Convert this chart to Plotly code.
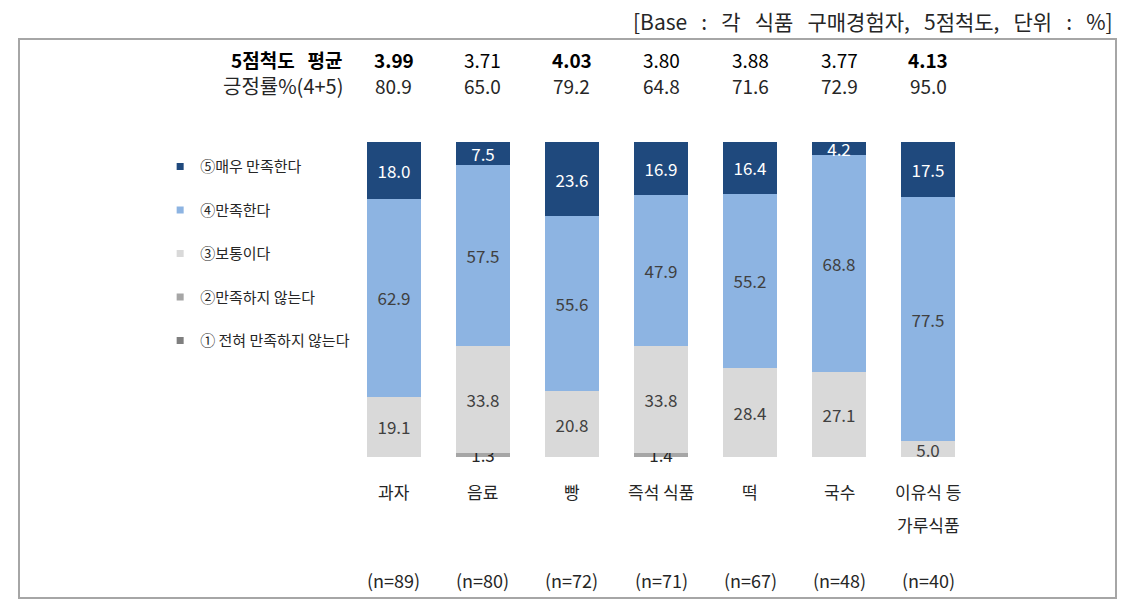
import plotly.graph_objects as go

categories = ['과자', '음료', '빵', '즉석 식품', '떡', '국수', '이유식 등<br>가루식품']
n_labels = ['(n=89)', '(n=80)', '(n=72)', '(n=71)', '(n=67)', '(n=48)', '(n=40)']
mean_5pt = ['3.99', '3.71', '4.03', '3.80', '3.88', '3.77', '4.13']
mean_bold = [True, False, True, False, False, False, True]
positive_rate = ['80.9', '65.0', '79.2', '64.8', '71.6', '72.9', '95.0']

s1 = [0, 0, 0, 0, 0, 0, 0]                       # ① 전혀 만족하지 않는다
s2 = [0, 1.3, 0, 1.4, 0, 0, 0]                   # ② 만족하지 않는다
s3 = [19.1, 33.8, 20.8, 33.8, 28.4, 27.1, 5.0]   # ③ 보통이다
s4 = [62.9, 57.5, 55.6, 47.9, 55.2, 68.8, 77.5]  # ④ 만족한다
s5 = [18.0, 7.5, 23.6, 16.9, 16.4, 4.2, 17.5]    # ⑤ 매우 만족한다

series = [
    ('① 전혀 만족하지 않는다', s1, '#7F7F7F', '#404040'),
    ('②만족하지 않는다', s2, '#A6A6A6', '#262626'),
    ('③보통이다', s3, '#D9D9D9', '#404040'),
    ('④만족한다', s4, '#8DB4E2', '#404040'),
    ('⑤매우 만족한다', s5, '#1F497D', '#FFFFFF'),
]

FONT = 'Liberation Sans Narrow, Noto Sans CJK KR, sans-serif'
KFONT = 'Noto Sans CJK KR, Liberation Sans, sans-serif'

fig = go.Figure()
nser = len(series)
for i, (name, vals, col, tcol) in enumerate(series):
    fig.add_trace(go.Bar(
        x=list(range(len(categories))), y=vals, name=name,
        marker=dict(color=col, line=dict(width=0)),
        text=[f'{v:.1f}' if v > 0 else '' for v in vals],
        textposition='inside', insidetextanchor='middle', textangle=0,
        constraintext='none',
        textfont=dict(family=FONT, size=17, color=tcol),
        width=0.6, showlegend=False, hoverinfo='skip', cliponaxis=False,
    ))
    fig.add_trace(go.Scatter(
        x=[None], y=[None], mode='markers', name=name,
        marker=dict(symbol='square', size=7, color=col),
        legendgroup=f'g{i}', legendrank=nser - i, showlegend=True,
    ))

ann = []
for i in range(len(categories)):
    ann.append(dict(x=i, y=126.3, xref='x', yref='y', showarrow=False,
                    text=(f'<b>{mean_5pt[i]}</b>' if mean_bold[i] else mean_5pt[i]),
                    font=dict(family=FONT, size=19, color='#000000')))
    ann.append(dict(x=i, y=117.8, xref='x', yref='y', showarrow=False,
                    text=positive_rate[i],
                    font=dict(family=FONT, size=19, color='#262626')))
    for j, line in enumerate(categories[i].split('<br>')):
        ann.append(dict(x=i, y=-11.1 - j * 10.2, xref='x', yref='y', showarrow=False,
                        text=line,
                        font=dict(family=KFONT, size=17, color='#262626')))
    ann.append(dict(x=i, y=-39.0, xref='x', yref='y', showarrow=False,
                    text=n_labels[i],
                    font=dict(family=FONT, size=18, color='#262626')))

ann.append(dict(x=-0.55, y=126.3, xref='x', yref='y', showarrow=False, xanchor='right',
                text='<b>5점척도&nbsp;&nbsp;&nbsp;평균</b>',
                font=dict(family=FONT, size=19, color='#000000')))
ann.append(dict(x=-0.55, y=117.8, xref='x', yref='y', showarrow=False, xanchor='right',
                text='긍정률%(4+5)', font=dict(family=FONT, size=20, color='#262626')))
note = '[Base : 각 식품 구매경험자, 5점척도, 단위 : %]'.replace(' ', '&nbsp;&nbsp;&nbsp;')
ann.append(dict(x=1.0, y=1.0, xref='paper', yref='paper', xanchor='right', yanchor='bottom',
                yshift=2, showarrow=False, text=note,
                font=dict(family=FONT, size=21, color='#262626')))

fig.update_layout(
    width=1140, height=612,
    margin=dict(l=20, r=25, t=40, b=15),
    paper_bgcolor='white', plot_bgcolor='white',
    barmode='stack', bargap=0.4,
    showlegend=True,
    legend=dict(x=0.128, y=0.802, xanchor='left', yanchor='top',
                traceorder='grouped', tracegroupgap=21,
                font=dict(family=KFONT, size=15, color='#262626'),
                bgcolor='rgba(0,0,0,0)', itemwidth=30),
    uniformtext=dict(minsize=17, mode='show'),
    xaxis=dict(range=[-4.202, 8.101], showticklabels=False, showgrid=False,
               zeroline=False, showline=True, mirror=True, linecolor='#A6A6A6', linewidth=2,
               ticks='', fixedrange=True),
    yaxis=dict(range=[-44.44, 132.38], showticklabels=False, showgrid=False,
               zeroline=False, showline=True, mirror=True, linecolor='#A6A6A6', linewidth=2,
               ticks='', fixedrange=True),
    annotations=ann,
)

fig.write_html('out.html')
